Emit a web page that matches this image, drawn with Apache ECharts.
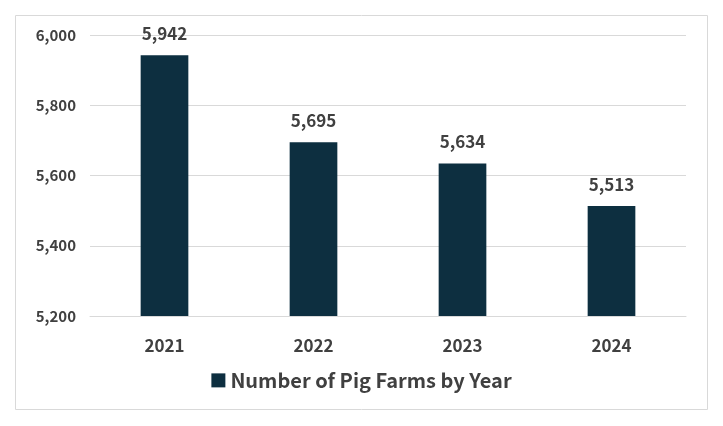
<html><head><script src="https://cdn.jsdelivr.net/npm/echarts@6/dist/echarts.min.js"></script>
<style>body{margin:0;background:#fff}#c{width:723px;height:426px}</style></head><body><div id="c"></div>
<script>
const categories=["2021","2022","2023","2024"];
const values=[5942,5695,5634,5513];
const seriesName="Number of Pig Farms by Year";
const font="'Noto Sans CJK KR','Noto Sans',sans-serif";
const chart=echarts.init(document.getElementById('c'));
chart.setOption({
 animation:false,
 graphic:[{type:'rect',shape:{x:15.5,y:15.5,width:692,height:394},style:{fill:'none',stroke:'#d9d9d9',lineWidth:1}}],
 grid:{left:90,right:37,top:35,bottom:110},
 legend:{bottom:22,left:'center',itemWidth:14,itemHeight:14,icon:'rect',textStyle:{fontFamily:font,fontSize:20,fontWeight:'bold',color:'#404040'}},
 xAxis:{type:'category',data:categories,axisTick:{show:false},axisLine:{lineStyle:{color:'#d9d9d9'}},axisLabel:{fontFamily:font,fontSize:17,fontWeight:'bold',color:'#404040',margin:14}},
 yAxis:{type:'value',min:5200,max:6000,interval:200,axisLabel:{fontFamily:font,fontSize:15,fontWeight:'bold',color:'#404040',margin:14,formatter:v=>v.toLocaleString('en-US')},splitLine:{lineStyle:{color:'#d9d9d9'}}},
 series:[{name:seriesName,type:'bar',data:values,barWidth:'32%',itemStyle:{color:'#0d2f40'},
  label:{show:true,position:'top',distance:6,fontFamily:font,fontSize:17,fontWeight:'bold',color:'#404040',formatter:p=>p.value.toLocaleString('en-US')}}]
});
</script></body></html>
